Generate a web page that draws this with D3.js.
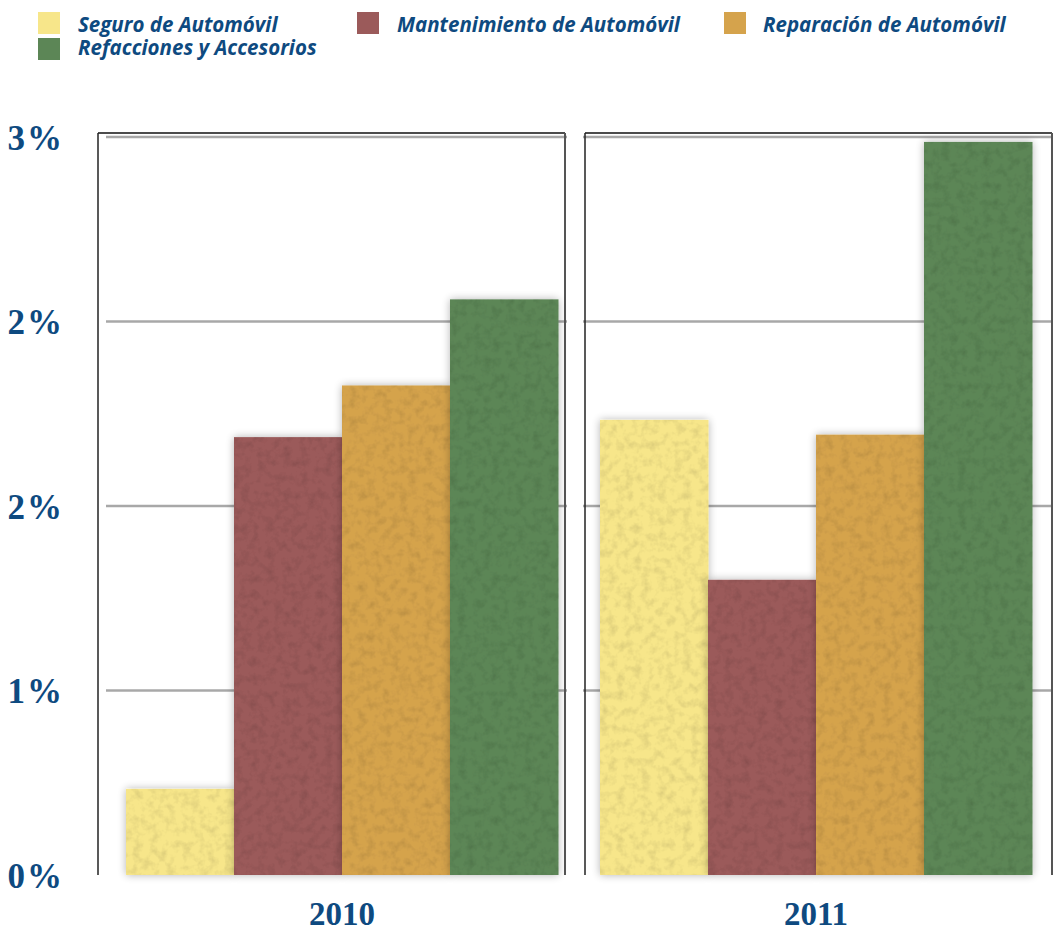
<!DOCTYPE html>
<html><head><meta charset="utf-8">
<script src="https://cdn.jsdelivr.net/npm/d3@7"></script>
<style>
html,body{margin:0;padding:0;background:#fff;}
svg{display:block;}
</style></head>
<body>
<svg id="chart" width="1053" height="931"></svg>
<script>
// ---- data ----
const years = ["2010", "2011"];
const series = ["Seguro de Automóvil", "Mantenimiento de Automóvil", "Reparación de Automóvil", "Refacciones y Accesorios"];
const values2010 = [0.35, 1.78, 1.99, 2.34];
const values2011 = [1.85, 1.20, 1.79, 2.98];
const yTicks = [0, 0.75, 1.5, 2.25, 3];
const colors = ["#f7e68a", "#9b5a5a", "#d5a34c", "#5c8656"];

const valuesByYear = {"2010": values2010, "2011": values2011};

// ---- layout ----
const W = 1053, H = 931;
const plotTop = 137, plotBottom = 875;
const frameTop = 133;
const textBlue = "#0e4a80";
const barInset = {"2010": [28, 460], "2011": [15, 447]};

const svg = d3.select("#chart");
const defs = svg.append("defs");

// subtle texture + soft shadow filter
const f = defs.append("filter").attr("id", "tex").attr("x", "-10%").attr("y", "-10%").attr("width", "120%").attr("height", "120%");
f.append("feTurbulence").attr("type", "fractalNoise").attr("baseFrequency", "0.12").attr("numOctaves", 3).attr("seed", 7).attr("result", "noise");
f.append("feColorMatrix").attr("in", "noise").attr("type", "matrix")
  .attr("values", "0 0 0 0 0  0 0 0 0 0  0 0 0 0 0  0 0 0 -0.45 0.26").attr("result", "nA");
f.append("feComposite").attr("in", "nA").attr("in2", "SourceGraphic").attr("operator", "in").attr("result", "nIn");
f.append("feComposite").attr("in", "nIn").attr("in2", "SourceGraphic").attr("operator", "over").attr("result", "texd");
f.append("feGaussianBlur").attr("in", "SourceAlpha").attr("stdDeviation", 4).attr("result", "blur");
f.append("feComponentTransfer").attr("in", "blur").attr("result", "shadow")
  .append("feFuncA").attr("type", "linear").attr("slope", 0.3);
const fm = f.append("feMerge");
fm.append("feMergeNode").attr("in", "shadow");
fm.append("feMergeNode").attr("in", "texd");

const lineShadow = defs.append("filter").attr("id", "lsh").attr("x", "-5%").attr("y", "-200%").attr("width", "110%").attr("height", "500%");
lineShadow.append("feDropShadow").attr("dx", 2).attr("dy", 3).attr("stdDeviation", 2).attr("flood-color", "#000").attr("flood-opacity", 0.25);

const y = d3.scaleLinear().domain([0, 3]).range([plotBottom, plotTop]);
const x0 = d3.scaleBand().domain(years).range([98, 1052]).paddingInner(20 / 487).paddingOuter(0);

// y tick labels
svg.append("g").selectAll("text").data(yTicks).join("text")
  .attr("x", 64).attr("y", d => y(d))
  .attr("dy", "0.36em")
  .attr("text-anchor", "end")
  .attr("font-family", "'Liberation Serif', 'Times New Roman', serif")
  .attr("font-weight", "bold")
  .attr("font-size", 35)
  .attr("letter-spacing", 2)
  .attr("fill", textBlue)
  .text(d => Math.round(d) + "%");

years.forEach((yr, yi) => {
  const px = x0(yr), pw = x0.bandwidth();
  const g = svg.append("g");
  const x1 = d3.scaleBand().domain(series).range([px + barInset[yr][0], px + barInset[yr][1]]).padding(0);

  // gridlines
  g.selectAll("line.grid").data(yTicks.filter(t => t > 0)).join("line")
    .attr("class", "grid")
    .attr("x1", yi === 0 ? px + 8 : px - 2).attr("x2", px + pw + 2)
    .attr("y1", d => y(d)).attr("y2", d => y(d))
    .attr("stroke", "#a8a8a8").attr("stroke-width", 2.5);

  // frame: top, left, right
  g.append("line").attr("x1", px).attr("x2", px + pw).attr("y1", frameTop).attr("y2", frameTop)
    .attr("stroke", "#111").attr("stroke-width", 1.5);
  g.append("line").attr("x1", px).attr("x2", px).attr("y1", frameTop).attr("y2", plotBottom)
    .attr("stroke", "#222").attr("stroke-width", 1.5);
  g.append("line").attr("x1", px + pw).attr("x2", px + pw).attr("y1", frameTop).attr("y2", plotBottom)
    .attr("stroke", "#555").attr("stroke-width", 2);

  // bars
  g.selectAll("rect.bar").data(series.map((s, i) => ({s, v: valuesByYear[yr][i], c: colors[i]}))).join("rect")
    .attr("class", "bar")
    .attr("x", d => x1(d.s))
    .attr("width", x1.bandwidth() + 0.5)
    .attr("y", d => y(d.v))
    .attr("height", d => y(0) - y(d.v))
    .attr("fill", d => d.c)
    .attr("filter", "url(#tex)");

  // bottom baseline
  g.append("line").attr("x1", px - 4).attr("x2", px + pw + 2).attr("y1", plotBottom).attr("y2", plotBottom)
    .attr("stroke", "#000").attr("stroke-width", 3).attr("filter", "url(#lsh)");

  // year label
  svg.append("text")
    .attr("x", px + (barInset[yr][0] + barInset[yr][1]) / 2)
    .attr("y", 925)
    .attr("text-anchor", "middle")
    .attr("font-family", "'Liberation Serif', 'Times New Roman', serif")
    .attr("font-weight", "bold")
    .attr("font-size", 33)
    .attr("fill", textBlue)
    .text(yr);
});

// legend
const legendPos = [
  {sx: 38, sy: 12, tx: 78, ty: 32},
  {sx: 357, sy: 12, tx: 397, ty: 32},
  {sx: 724, sy: 12, tx: 763, ty: 32},
  {sx: 38, sy: 38, tx: 78, ty: 55}
];
const lg = svg.append("g");
series.forEach((s, i) => {
  const p = legendPos[i];
  lg.append("rect").attr("x", p.sx).attr("y", p.sy).attr("width", 22).attr("height", 22)
    .attr("fill", colors[i]);
  lg.append("text").attr("x", p.tx).attr("y", p.ty)
    .attr("font-family", "'Open Sans', sans-serif")
    .attr("font-style", "italic")
    .attr("font-weight", 700)
    .attr("font-size", 20.5)
    .attr("fill", textBlue)
    .text(s);
});
</script>
</body></html>
